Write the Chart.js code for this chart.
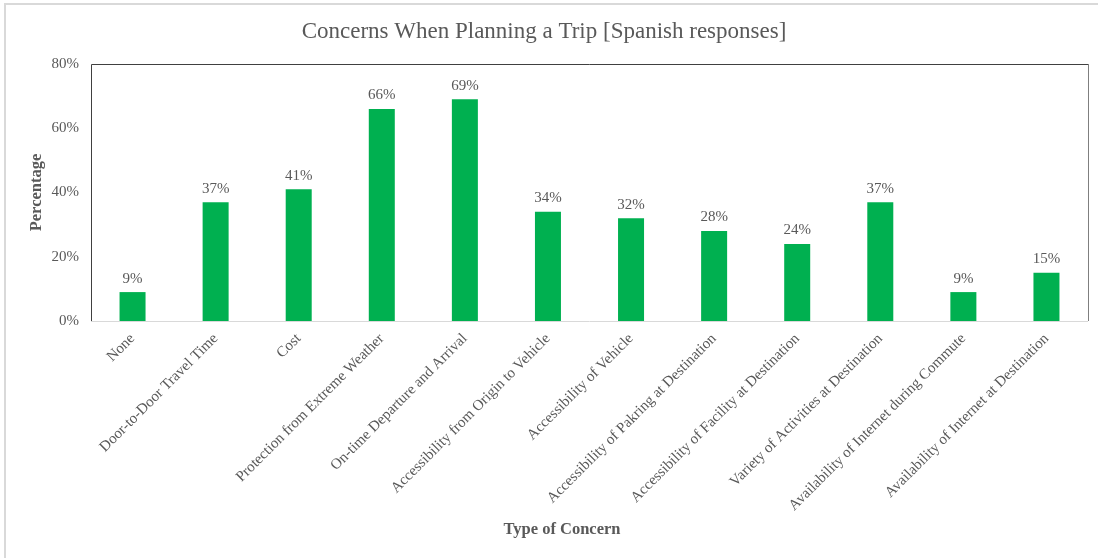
<!DOCTYPE html>
<html>
<head>
<meta charset="utf-8">
<title>Concerns When Planning a Trip</title>
<script src="https://cdn.jsdelivr.net/npm/chart.js@4/dist/chart.umd.min.js"></script>
<style>
  html, body { margin: 0; padding: 0; background: #fff; }
  #wrap { position: relative; width: 1098px; height: 558px; }
</style>
</head>
<body>
<div id="wrap"><canvas id="concernChart"></canvas></div>
<script>
// -----------------------
// Survey data
// -----------------------
const categories = [
  'None',
  'Door-to-Door Travel Time',
  'Cost',
  'Protection from Extreme Weather',
  'On-time Departure and Arrival',
  'Accessibility from Origin to Vehicle',
  'Accessibility of Vehicle',
  'Accessibility of Pakring at Destination',
  'Accessibility of Facility at Destination',
  'Variety of Activities at Destination',
  'Availability of Internet during Commute',
  'Availability of Internet at Destination'
];
const percentages = [9, 37, 41, 66, 69, 34, 32, 28, 24, 37, 9, 15];
const yTicks = [0, 20, 40, 60, 80];

const TEXT = '#595959';
const SERIF = "'Liberation Serif', 'Times New Roman', serif";

// -----------------------
// Extra drawing: outer frame, plot box, value labels, x title
// -----------------------
const decorations = {
  id: 'decorations',
  beforeDraw(chart) {
    const { ctx } = chart;
    ctx.save();
    ctx.strokeStyle = '#d9d9d9';
    ctx.lineWidth = 2;
    ctx.strokeRect(5, 4, chart.width + 10, chart.height + 10);
    ctx.restore();
  },
  afterDatasetsDraw(chart) {
    const { ctx, chartArea: a } = chart;
    ctx.save();

    // plot area box
    ctx.lineWidth = 1;
    ctx.strokeStyle = '#d9d9d9';
    ctx.beginPath();
    ctx.moveTo(a.left, a.bottom + 0.5);
    ctx.lineTo(a.right, a.bottom + 0.5);
    ctx.stroke();
    ctx.strokeStyle = '#7f7f7f';
    ctx.beginPath();
    ctx.moveTo(a.right + 0.5, a.top);
    ctx.lineTo(a.right + 0.5, a.bottom);
    ctx.stroke();
    ctx.strokeStyle = '#404040';
    ctx.beginPath();
    ctx.moveTo(a.left + 0.5, a.bottom);
    ctx.lineTo(a.left + 0.5, a.top + 0.5);
    ctx.lineTo(a.right, a.top + 0.5);
    ctx.stroke();

    // value labels above bars
    ctx.fillStyle = TEXT;
    ctx.font = '15px ' + SERIF;
    ctx.textAlign = 'center';
    ctx.textBaseline = 'bottom';
    chart.getDatasetMeta(0).data.forEach((bar, i) => {
      ctx.fillText(percentages[i] + '%', bar.x, bar.y - 6);
    });

    // x axis title
    ctx.font = 'bold 16.5px ' + SERIF;
    ctx.textBaseline = 'middle';
    ctx.fillText('Type of Concern', 562, 530);
    ctx.restore();
  }
};

const ctx = document.getElementById('concernChart').getContext('2d');
new Chart(ctx, {
  type: 'bar',
  data: {
    labels: categories,
    datasets: [{
      data: percentages,
      backgroundColor: '#00B050',
      barPercentage: 0.313,
      categoryPercentage: 1
    }]
  },
  options: {
    responsive: true,
    maintainAspectRatio: false,
    animation: false,
    layout: { padding: { left: 0, right: 10, top: 0, bottom: 0 } },
    plugins: {
      legend: { display: false },
      tooltip: { enabled: false },
      title: {
        display: true,
        text: 'Concerns When Planning a Trip [Spanish responses]',
        color: TEXT,
        font: { family: SERIF, size: 23, weight: 'normal', lineHeight: 1.2 },
        padding: { top: 18, bottom: 18.4 }
      }
    },
    scales: {
      x: {
        grid: { display: false, drawTicks: false },
        border: { display: false },
        ticks: {
          color: TEXT,
          font: { family: SERIF, size: 15 },
          minRotation: 45,
          maxRotation: 45,
          autoSkip: false,
          padding: 9
        },
        afterFit: scale => { scale.height = 237; }
      },
      y: {
        min: yTicks[0],
        max: yTicks[yTicks.length - 1],
        grid: { display: false, drawTicks: false },
        border: { display: false },
        ticks: {
          stepSize: yTicks[1] - yTicks[0],
          color: TEXT,
          font: { family: SERIF, size: 15 },
          padding: 12,
          callback: v => v + '%'
        },
        title: {
          display: true,
          text: 'Percentage',
          color: TEXT,
          font: { family: SERIF, size: 16.5, weight: 'bold', lineHeight: 1.2 },
          padding: { top: 27, bottom: 0 }
        },
        afterFit: scale => { scale.width = 91; }
      }
    }
  },
  plugins: [decorations]
});
</script>
</body>
</html>
